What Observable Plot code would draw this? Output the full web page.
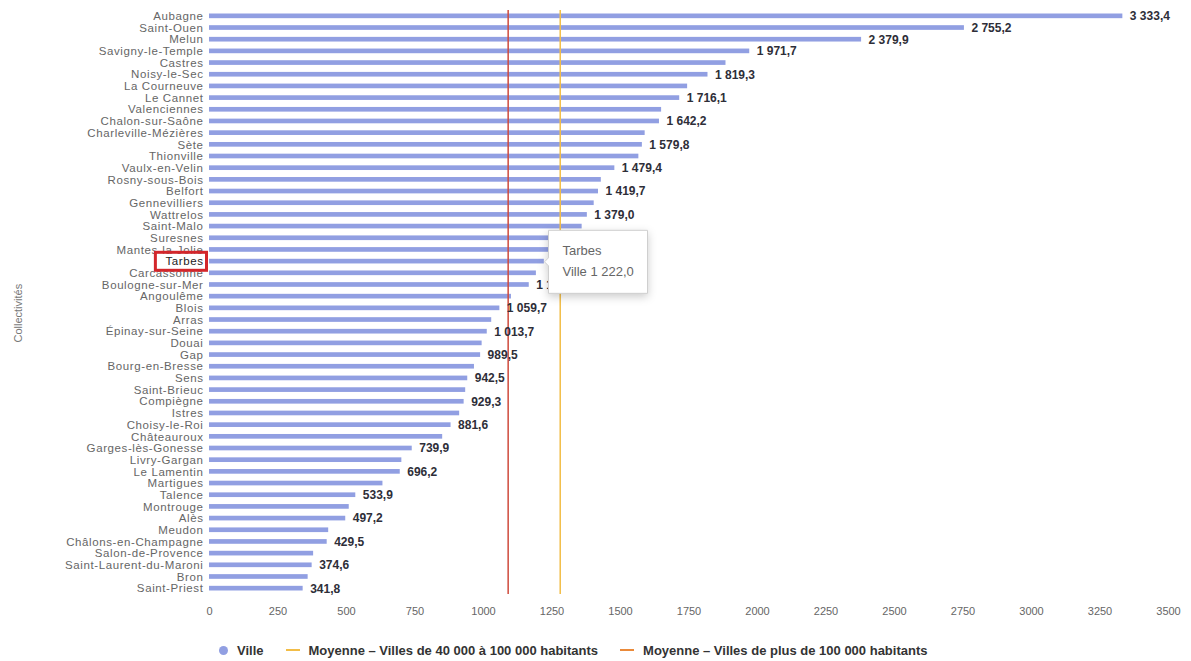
<!DOCTYPE html>
<html>
<head>
<meta charset="utf-8">
<script src="https://cdn.jsdelivr.net/npm/d3@7"></script>
<script src="https://cdn.jsdelivr.net/npm/@observablehq/plot@0.6"></script>
<style>
  body { margin: 0; background: #fff; font-family: "Liberation Sans", Arial, sans-serif; }
  #chart { width: 1191px; height: 630px; }
  g[aria-label="y-axis tick label"] { font-size: 11.5px; letter-spacing: 0.6px; }
  .legend { display: flex; align-items: center; gap: 22px; padding-left: 219px; margin-top: 12px; height: 16px;
            font-size: 13px; font-weight: bold; color: #333; }
  .legend .item { display: flex; align-items: center; gap: 9px; white-space: nowrap; }
  .legend .dot { width: 9px; height: 9px; border-radius: 50%; }
  .legend .dash { width: 14px; height: 2px; }
</style>
</head>
<body>
<div id="chart"></div>
<div class="legend" id="legend"></div>
<script>
// ---- data ----
const cities = [
  "Aubagne", "Saint-Ouen", "Melun", "Savigny-le-Temple", "Castres", "Noisy-le-Sec",
  "La Courneuve", "Le Cannet", "Valenciennes", "Chalon-sur-Saône", "Charleville-Mézières",
  "Sète", "Thionville", "Vaulx-en-Velin", "Rosny-sous-Bois", "Belfort", "Gennevilliers",
  "Wattrelos", "Saint-Malo", "Suresnes", "Mantes-la-Jolie", "Tarbes", "Carcassonne",
  "Boulogne-sur-Mer", "Angoulême", "Blois", "Arras", "Épinay-sur-Seine", "Douai", "Gap",
  "Bourg-en-Bresse", "Sens", "Saint-Brieuc", "Compiègne", "Istres", "Choisy-le-Roi",
  "Châteauroux", "Garges-lès-Gonesse", "Livry-Gargan", "Le Lamentin", "Martigues", "Talence",
  "Montrouge", "Alès", "Meudon", "Châlons-en-Champagne", "Salon-de-Provence",
  "Saint-Laurent-du-Maroni", "Bron", "Saint-Priest"
];
const values = [
  3333.4, 2755.2, 2379.9, 1971.7, 1885, 1819.3,
  1745, 1716.1, 1650, 1642.2, 1590,
  1579.8, 1567, 1479.4, 1430, 1419.7, 1404,
  1379.0, 1360, 1282, 1247, 1222.0, 1193,
  1167, 1102, 1059.7, 1030, 1013.7, 995, 989.5,
  967, 942.5, 935, 929.3, 913, 881.6,
  851, 739.9, 702, 696.2, 633, 533.9,
  510, 497.2, 435, 429.5, 380,
  374.6, 360, 341.8
];
const xTicks = [0, 250, 500, 750, 1000, 1250, 1500, 1750, 2000, 2250, 2500, 2750, 3000, 3250, 3500];
const averageMid = 1280;    // Moyenne – Villes de 40 000 à 100 000 habitants
const averageLarge = 1090;  // Moyenne – Villes de plus de 100 000 habitants
const highlighted = "Tarbes";
const hiddenUnderTooltip = ["Suresnes", "Tarbes"];
const seriesName = "Ville";
const yTitle = "Collectivités";
const legendLabels = ["Ville", "Moyenne – Villes de 40 000 à 100 000 habitants", "Moyenne – Villes de plus de 100 000 habitants"];

// ---- styling ----
const barColor = "#919fe2";
const midColor = "#f2bd47";
const largeColor = "#cf4a3c";

const rows = cities.map((c, i) => ({city: c, value: values[i], i}));
const fr = d3.formatLocale({decimal: ",", thousands: " ", grouping: [3], currency: ["", " €"]}).format(",.1f");
const labelled = rows.filter(d => (d.i < 4 || d.i % 2 === 1) && !hiddenUnderTooltip.includes(d.city));
const hi = rows.filter(d => d.city === highlighted);

const marks = [
  Plot.barX(rows, {x: "value", y: "city", fill: barColor}),
  Plot.ruleX([averageLarge], {stroke: largeColor, strokeWidth: 1.5}),
  Plot.ruleX([averageMid], {stroke: midColor, strokeWidth: 1.5}),
  Plot.text(labelled, {x: "value", y: "city", text: d => fr(d.value), dx: 7, textAnchor: "start",
    fontSize: 12, fontWeight: "bold", fill: "#2e2e38"}),
  Plot.text([yTitle], {frameAnchor: "left", rotate: -90, dx: -191, dy: 40, text: d => d, fill: "#777", fontSize: 11})
];
if (Plot.tip) {
  marks.push(Plot.tip(hi, {x: "value", y: "city", anchor: "left",
    title: d => `${d.city}\n${seriesName} ${fr(d.value)}`,
    fontSize: 13, lineHeight: 1.55, textPadding: 14, pointerSize: 8,
    fill: "white", stroke: "#cfcfcf"}));
} else {
  marks.push(Plot.text(hi, {x: "value", y: "city", text: d => `${d.city}\n${seriesName} ${fr(d.value)}`,
    dx: 20, textAnchor: "start", fontSize: 12, lineHeight: 1.5, fill: "#444", stroke: "white", strokeWidth: 6}));
}

const svg = Plot.plot({
  width: 1191, height: 630,
  marginLeft: 209, marginRight: 23, marginTop: 10, marginBottom: 36,
  style: {fontFamily: "'Liberation Sans', Arial, sans-serif", fontSize: "11px", color: "#666", background: "white"},
  x: {domain: [0, 3500], ticks: xTicks, tickFormat: d => String(d), tickSize: 0, tickPadding: 13, label: null},
  y: {domain: cities, label: null, tickSize: 0, tickPadding: 6, paddingInner: 0.6, paddingOuter: 0.3},
  marks
});
document.getElementById("chart").appendChild(svg);

// red frame around highlighted category label
for (const t of svg.querySelectorAll('g[aria-label="y-axis tick label"] text')) {
  if (t.textContent === highlighted) {
    t.setAttribute("fill", "#222");
    const b = t.getBBox();
    const r = document.createElementNS("http://www.w3.org/2000/svg", "rect");
    r.setAttribute("x", b.x - 10); r.setAttribute("y", b.y - 3);
    r.setAttribute("width", b.width + 13); r.setAttribute("height", b.height + 6);
    if (t.getAttribute("transform")) r.setAttribute("transform", t.getAttribute("transform"));
    r.setAttribute("fill", "none"); r.setAttribute("stroke", "#d3262b"); r.setAttribute("stroke-width", 3);
    t.parentNode.appendChild(r);
  }
}
// tooltip text colours
for (const ts of svg.querySelectorAll('g[aria-label="tip"] tspan')) {
  const s = ts.textContent;
  if (s === highlighted) { ts.setAttribute("fill", "#6b4a55"); ts.setAttribute("font-size", "12"); }
  else if (s.startsWith(seriesName + " ")) {
    ts.textContent = "";
    const a = document.createElementNS("http://www.w3.org/2000/svg", "tspan");
    a.setAttribute("fill", "#9aa6c8"); a.textContent = seriesName + " ";
    const v = document.createElementNS("http://www.w3.org/2000/svg", "tspan");
    v.setAttribute("fill", "#333"); v.setAttribute("font-weight", "bold"); v.textContent = s.slice(seriesName.length + 1);
    ts.appendChild(a); ts.appendChild(v);
  }
}

// legend
const legendColors = [barColor, midColor, "#ea8a3a"];
const lg = document.getElementById("legend");
legendLabels.forEach((name, i) => {
  const it = document.createElement("div"); it.className = "item";
  const sw = document.createElement("span"); sw.className = i === 0 ? "dot" : "dash";
  sw.style.background = legendColors[i];
  const tx = document.createElement("span"); tx.textContent = name;
  it.appendChild(sw); it.appendChild(tx); lg.appendChild(it);
});
</script>
</body>
</html>
